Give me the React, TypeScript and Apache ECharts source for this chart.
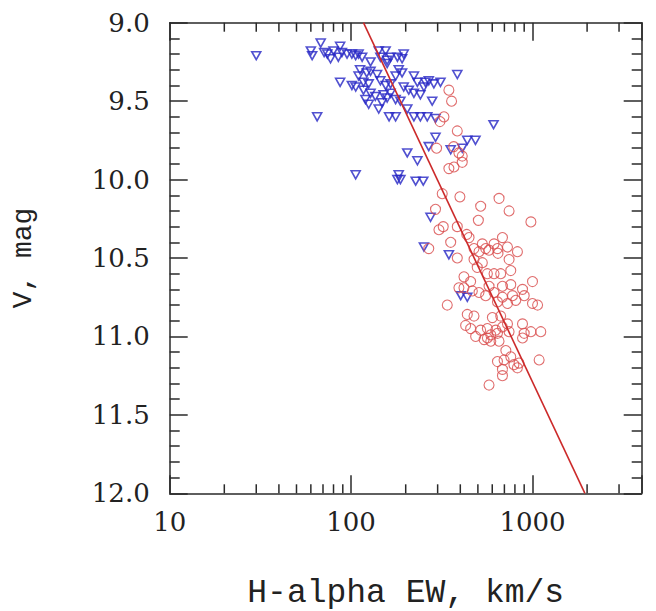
import React, { useEffect, useRef } from "react";
import * as echarts from "echarts";

// Blue open triangles: [H-alpha EW (km/s), V (mag)]
const triangleStars: number[][] = [
  [30, 9.21], [68, 9.13], [87, 9.15], [60, 9.18], [61, 9.21], [71, 9.19], [74, 9.2], [80, 9.18],
  [77, 9.23], [85, 9.22], [89, 9.19], [95, 9.2], [101, 9.2], [106, 9.21], [110, 9.2], [115, 9.22],
  [128, 9.25], [142, 9.18], [155, 9.18], [145, 9.22], [158, 9.24], [165, 9.22], [180, 9.22], [195, 9.2],
  [158, 9.26], [191, 9.23], [385, 9.33], [87, 9.38], [101, 9.4], [106, 9.41], [112, 9.3], [122, 9.32],
  [128, 9.31], [139, 9.33], [110, 9.34], [117, 9.38], [125, 9.39], [145, 9.37], [155, 9.4], [165, 9.39],
  [176, 9.34], [183, 9.3], [191, 9.32], [222, 9.34], [232, 9.38], [257, 9.38], [268, 9.37], [286, 9.39],
  [311, 9.38], [117, 9.43], [128, 9.45], [120, 9.49], [125, 9.52], [136, 9.47], [142, 9.55], [148, 9.51],
  [151, 9.46], [158, 9.48], [165, 9.45], [176, 9.49], [187, 9.5], [195, 9.41], [208, 9.43], [222, 9.45],
  [241, 9.46], [252, 9.41], [280, 9.5], [204, 9.55], [65, 9.6], [162, 9.6], [176, 9.6], [222, 9.6],
  [241, 9.6], [263, 9.6], [292, 9.61], [292, 9.73], [268, 9.79], [437, 9.75], [485, 9.75], [354, 9.81],
  [410, 9.8], [204, 9.83], [232, 9.88], [106, 9.97], [183, 9.97], [187, 10.0], [180, 10.0], [227, 10.01],
  [250, 10.01], [274, 10.24], [252, 10.43], [346, 10.48], [402, 10.74], [437, 10.75], [610, 9.65],
];

// Red open circles: [H-alpha EW (km/s), V (mag)]
const circleStars: number[][] = [
  [346, 9.43], [358, 9.5], [325, 9.6], [309, 9.63], [385, 9.69], [296, 9.8], [368, 9.79], [393, 9.83],
  [410, 9.85], [346, 9.93], [369, 9.92], [410, 9.89], [318, 10.09], [398, 10.11], [518, 10.17], [654, 10.12],
  [743, 10.2], [503, 10.26], [292, 10.19], [305, 10.32], [322, 10.3], [385, 10.3], [434, 10.35], [447, 10.37],
  [354, 10.4], [268, 10.44], [385, 10.5], [476, 10.44], [529, 10.41], [552, 10.44], [614, 10.41], [641, 10.44],
  [683, 10.37], [728, 10.43], [826, 10.46], [507, 10.46], [576, 10.45], [645, 10.47], [476, 10.51], [529, 10.53],
  [743, 10.51], [496, 10.56], [419, 10.62], [456, 10.65], [564, 10.6], [614, 10.6], [668, 10.6], [759, 10.58],
  [393, 10.69], [419, 10.69], [466, 10.71], [507, 10.72], [552, 10.74], [576, 10.68], [614, 10.72], [683, 10.75],
  [776, 10.74], [759, 10.67], [339, 10.8], [728, 10.79], [809, 10.77], [437, 10.86], [476, 10.87], [601, 10.88],
  [668, 10.87], [428, 10.93], [456, 10.95], [518, 10.96], [564, 10.95], [627, 10.96], [683, 10.94], [743, 10.97],
  [486, 11.0], [541, 11.02], [589, 11.03], [654, 11.03], [713, 11.09], [759, 11.13], [683, 10.68], [881, 10.7],
  [1000, 10.65], [641, 10.78], [900, 10.74], [1000, 10.79], [1067, 10.8], [881, 10.92], [728, 10.92], [641, 10.98],
  [900, 10.98], [980, 10.97], [1111, 10.97], [881, 11.01], [564, 11.01], [641, 11.16], [697, 11.15], [683, 11.21],
  [683, 11.25], [790, 11.18], [843, 11.17], [826, 11.2], [1088, 11.15], [576, 11.31], [589, 10.99], [980, 10.27],
];

// Fitted relation: end points on the frame
const fitLine: number[][] = [[117, 9.0], [1945, 12.0]];

// Axis definitions
const xRange = [10, 4000];
const yRange = [9.0, 12.0];
const xMajorLabels = [10, 100, 1000];
const xMinorTicks = [20, 30, 40, 50, 60, 70, 80, 90, 200, 300, 400, 500, 600, 700, 800, 900, 2000, 3000];

const AXIS_COLOR = "#2a2a2a";
const LABEL_FONT = "DejaVu Serif";
const TITLE_FONT = "Liberation Mono";

export default function App() {
  const ref = useRef<HTMLDivElement>(null);

  useEffect(() => {
    if (!ref.current) return;
    const chart = echarts.init(ref.current, null, { renderer: "svg" });

    const axisLine = { show: true, lineStyle: { color: AXIS_COLOR, width: 1.5 } };
    const majorTick = { show: true, inside: true, length: 18, lineStyle: { color: AXIS_COLOR, width: 1.5 } };

    const option: any = {
      animation: false,
      backgroundColor: "#ffffff",
      grid: {
        left: 169.7,
        right: 14.3,
        top: 22.7,
        bottom: 117.7,
        outerBoundsMode: "none",
      },
      xAxis: [
        {
          type: "log",
          logBase: 10,
          min: xRange[0],
          max: xRange[1],
          position: "bottom",
          splitNumber: 3,
          axisLine,
          axisTick: majorTick,
          splitLine: { show: false },
          axisLabel: {
            margin: 16,
            fontFamily: LABEL_FONT,
            fontSize: 26,
            color: "#222",
            showMinLabel: true,
            showMaxLabel: true,
            formatter: (v: number) => {
              const r = Math.round(v);
              return xMajorLabels.includes(r) ? String(r) : "";
            },
          },
          name: "H-alpha EW, km/s",
          nameLocation: "middle",
          nameGap: 84,
          nameTextStyle: { fontFamily: TITLE_FONT, fontSize: 33, color: "#222" },
        },
        {
          type: "log",
          logBase: 10,
          min: xRange[0],
          max: xRange[1],
          position: "top",
          splitNumber: 3,
          axisLine,
          axisTick: majorTick,
          splitLine: { show: false },
          axisLabel: { show: false },
        },
      ],
      yAxis: [
        {
          type: "value",
          inverse: true,
          min: yRange[0],
          max: yRange[1],
          interval: 0.5,
          position: "left",
          axisLine,
          axisTick: majorTick,
          minorTick: { show: true, splitNumber: 5, length: 10, lineStyle: { color: AXIS_COLOR, width: 1.5 } },
          splitLine: { show: false },
          minorSplitLine: { show: false },
          axisLabel: {
            margin: 20,
            fontFamily: LABEL_FONT,
            fontSize: 26,
            color: "#222",
            formatter: (v: number) => v.toFixed(1),
          },
          name: "V, mag",
          nameLocation: "middle",
          nameGap: 132,
          nameRotate: 90,
          nameTextStyle: { fontFamily: TITLE_FONT, fontSize: 28, color: "#222" },
        },
        {
          type: "value",
          inverse: true,
          min: yRange[0],
          max: yRange[1],
          interval: 0.5,
          position: "right",
          axisLine,
          axisTick: majorTick,
          minorTick: { show: true, splitNumber: 5, length: 10, lineStyle: { color: AXIS_COLOR, width: 1.5 } },
          splitLine: { show: false },
          minorSplitLine: { show: false },
          axisLabel: { show: false },
        },
      ],
      series: [
        {
          type: "custom",
          xAxisIndex: 0,
          yAxisIndex: 0,
          silent: true,
          clip: false,
          data: xMinorTicks.map((v) => [v, yRange[1]]),
          renderItem: (params: any, api: any) => {
            const v = api.value(0);
            const pb = api.coord([v, yRange[1]]);
            const pt = api.coord([v, yRange[0]]);
            const style = { stroke: AXIS_COLOR, lineWidth: 1.5 };
            return {
              type: "group",
              children: [
                { type: "line", shape: { x1: pb[0], y1: pb[1], x2: pb[0], y2: pb[1] - 9 }, style },
                { type: "line", shape: { x1: pt[0], y1: pt[1], x2: pt[0], y2: pt[1] + 9 }, style },
              ],
            };
          },
        },
        {
          type: "scatter",
          name: "triangles",
          data: triangleStars,
          symbol: "triangle",
          symbolRotate: 180,
          symbolSize: [9, 8],
          itemStyle: { color: "transparent", borderColor: "#2626c4", borderWidth: 1.6 },
        },
        {
          type: "scatter",
          name: "circles",
          data: circleStars,
          symbol: "circle",
          symbolSize: 10,
          itemStyle: { color: "transparent", borderColor: "#d84a4a", borderWidth: 1.1 },
        },
        {
          type: "line",
          name: "fit",
          data: fitLine,
          symbol: "none",
          lineStyle: { color: "#cc2a2a", width: 1.6 },
          z: 5,
        },
      ],
    };

    chart.setOption(option);
    return () => chart.dispose();
  }, []);

  return (
    <div
      ref={ref}
      style={{ position: "absolute", left: 0, top: 0, width: 656, height: 611, background: "#fff" }}
    />
  );
}
